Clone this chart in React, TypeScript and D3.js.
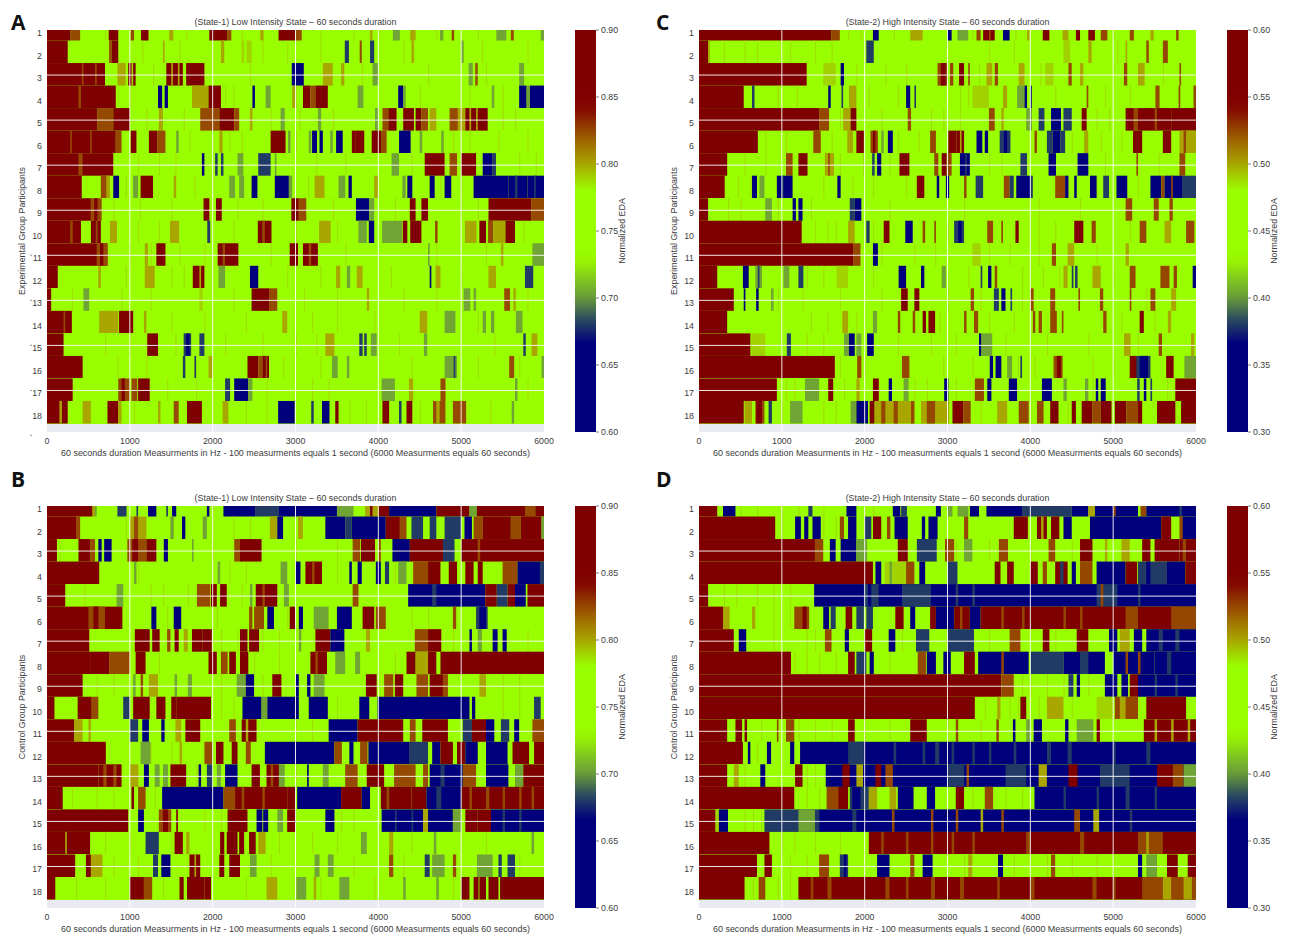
import React from "react";
import * as d3 from "d3";

// EDA level codes read from the stripes (mapped to values per scale below)
const R = "R", B = "B", O = "O", P = "P", L = "L", G = "G", T = "T", N = "N";
type Lv = string;

const participants = d3.range(1, 19);
const xTicks = [0, 1000, 2000, 3000, 4000, 5000, 6000];
const barTicksLow = [0.6, 0.65, 0.7, 0.75, 0.8, 0.85, 0.9];
const barTicksHigh = [0.3, 0.35, 0.4, 0.45, 0.5, 0.55, 0.6];
const levelsLow: Record<string, number> = { R: 0.88, B: 0.825, O: 0.8, P: 0.79, L: 0.75, G: 0.703, T: 0.68, N: 0.62 };
const levelsHigh: Record<string, number> = { R: 0.58, B: 0.525, O: 0.5, P: 0.49, L: 0.45, G: 0.403, T: 0.38, N: 0.32 };

const panelA: (number | Lv)[][] = [
  [0,285,R,285,400,B,745,860,R,1010,1050,B,1135,1225,R,1475,1525,O,1960,2175,R,2175,2225,B,2575,2615,O,2795,2995,R,2995,3075,B,3900,3930,O,4175,4260,G,4385,4450,O,4745,4785,G,4885,4915,B,5425,5545,G,5600,5635,B,5960,6000,G],
  [0,250,R,750,780,B,780,860,R,1400,1420,O,2100,2140,O,2350,2380,P,2410,2470,P,3595,3645,T,3775,3800,B,3900,3950,T,4400,4430,O,5000,5030,G],
  [0,700,R,420,440,B,580,600,B,850,950,O,980,1070,R,1020,1040,P,1440,1640,R,1500,1520,O,1580,1600,O,1680,1900,R,2955,3100,N,3330,3450,O,3550,3590,O,3930,4000,G,5090,5140,G,5170,5200,B,5700,5760,G],
  [0,830,R,380,410,B,1340,1390,N,1420,1460,N,1750,1950,O,1950,2100,R,2480,2510,N,2640,2700,G,2960,3010,O,3090,3180,R,3180,3240,B,3240,3390,R,3750,3820,G,4240,4300,N,4300,4330,G,5370,5400,G,5700,5790,N,5790,5830,G,5830,6000,N],
  [0,610,R,610,800,B,800,1000,R,1350,1400,O,1850,1980,B,1980,2080,B,2080,2260,R,2260,2320,B,2450,2480,O,2820,2870,G,3270,3310,G,3960,4000,G,4050,4120,B,4120,4220,R,4300,4430,R,4450,4520,R,4520,4600,B,4620,4700,O,4860,4960,B,4960,5050,O,5050,5320,R,5100,5120,O,5180,5200,O],
  [0,830,R,280,300,B,520,540,B,830,900,B,1010,1080,R,1230,1330,R,1330,1430,B,1560,1590,G,2080,2120,O,2700,2880,R,2910,2940,G,3160,3190,G,3200,3260,N,3290,3330,N,3420,3450,G,3490,3570,N,3680,3720,R,3720,3830,R,3920,4040,R,4040,4100,B,4250,4390,N,4500,4530,G,4760,4790,G],
  [0,800,R,380,430,B,1870,1900,N,2030,2060,T,2100,2130,T,2300,2370,G,2550,2700,T,2750,2770,G,4160,4250,G,4560,4800,R,4860,4950,B,5000,5180,R,5260,5380,N,5380,5420,T],
  [0,420,R,650,720,B,720,760,O,800,870,N,1040,1100,G,1130,1280,R,1530,1560,O,2200,2270,G,2320,2380,G,2470,2540,N,2750,2920,N,2920,2960,G,3230,3350,O,3520,3600,G,3640,3680,N,3950,4000,O,4290,4330,G,4350,4410,N,4620,4680,N,4800,4880,N,5150,5570,N,5570,5800,N,5650,5680,T,5800,6000,N,5880,5900,T],
  [0,530,R,530,660,B,570,610,R,1890,1960,R,2040,2110,R,2950,3040,R,3040,3130,B,3730,3890,N,3890,3950,G,4380,4450,R,4520,4600,R,5330,5850,R,5850,6000,B],
  [0,410,R,280,310,B,530,650,R,590,610,B,760,845,O,1485,1595,O,1935,1970,T,2545,2710,R,2600,2630,B,3285,3425,O,3760,3860,G,3885,3950,N,4045,4285,G,4295,4350,R,4385,4520,R,4685,4715,B,5045,5185,O,5220,5300,R,5325,5385,B,5385,5535,O,5535,5650,R],
  [0,730,R,600,730,B,640,680,R,1180,1220,O,1320,1430,R,2060,2310,R,2120,2150,B,2930,3030,R,3090,3270,R,3160,3190,B,4600,4620,G,5480,5510,O,5860,6000,G],
  [0,130,R,620,650,O,1180,1300,O,1760,1900,R,1840,1860,O,2070,2150,G,2450,2550,N,3490,3540,O,3620,3660,G,3740,3810,O,4620,4640,N,4690,4750,O,5330,5420,O,5770,5870,T],
  [0,50,R,440,510,G,1840,1880,P,2470,2680,R,2680,2780,B,3860,3890,O,5030,5110,G,5150,5180,G,5520,5590,B,5630,5660,O],
  [0,300,R,200,220,B,630,860,O,870,1040,R,1170,1200,O,2840,2900,O,4500,4590,O,4800,4930,G,5260,5300,G,5360,5400,G,5660,5740,G],
  [0,200,R,1210,1340,R,1650,1740,T,1680,1720,N,1840,1900,T,3360,3470,O,3770,3810,T,3830,3860,T,3910,3980,G,4550,4590,G,5750,5780,T,5850,5920,O],
  [0,430,R,1640,1670,T,1780,1800,T,1950,2000,O,2420,2550,R,2550,2600,B,2600,2680,R,2640,2660,B,3440,3510,G,3620,3650,G,4800,4950,G,4910,4930,T,5580,5640,B,5970,6000,G],
  [0,310,R,860,1000,B,900,940,R,1020,1090,B,1100,1240,R,2150,2210,T,2260,2430,N,2430,2480,G,4040,4200,G,4370,4420,O,4750,4810,B,5650,5680,G],
  [0,250,R,150,180,O,430,530,O,730,860,R,860,900,O,1340,1370,O,1530,1590,B,1690,1870,R,2120,2190,O,2790,2990,N,3190,3220,T,3320,3410,N,3480,3520,R,4050,4130,R,4250,4280,T,4340,4410,R,4660,4810,B,4700,4740,O,4900,5060,B,5610,5640,G],
];

const panelC: (number | Lv)[][] = [
  [0,1600,R,1600,1700,B,2100,2170,N,2550,2700,O,3000,3050,N,3120,3250,G,3350,3400,B,3430,3570,R,3500,3520,B,3670,3750,N,3960,3990,O,4150,4230,R,4390,4460,O,4550,4600,R,4700,4780,R,4850,4930,B,5200,5250,B,5450,5490,O,5760,5790,B],
  [0,110,R,110,130,O,2020,2110,T,4400,4480,P,4700,4740,O,5150,5170,O,5400,5430,B,5600,5660,B],
  [0,1300,R,1500,1650,P,1710,1750,N,2880,3000,B,2920,2980,R,3030,3070,B,3140,3200,R,3250,3270,B,3470,3540,O,3570,3610,B,3860,3930,O,4180,4280,P,4460,4500,B,4600,4640,O,5130,5170,B,5300,5380,O,5800,5820,B],
  [0,540,R,640,670,T,1560,1590,N,1720,1740,T,1810,1900,O,2500,2550,N,2600,2620,T,3300,3500,P,3670,3720,O,3840,3930,G,3930,3960,N,4000,4020,T,4680,4700,B,5510,5560,B,5790,5810,B,5970,6000,B],
  [0,1450,R,1450,1570,B,1740,1830,O,1830,1900,R,2520,2560,B,3500,3570,B,3650,3680,O,3950,4020,G,4100,4170,T,4250,4370,N,4400,4500,T,4620,4680,R,5150,5250,R,5250,5300,B,5300,5700,R,5500,5530,B,5700,6000,R],
  [0,710,R,1380,1470,B,1790,1860,O,1900,1990,R,2070,2160,B,2100,2130,R,2200,2230,G,2280,2340,N,2790,2860,B,3010,3110,R,3110,3200,R,3150,3170,O,3350,3420,N,3450,3490,N,3630,3760,T,3680,3720,N,4050,4080,B,4200,4270,T,4270,4360,N,4360,4420,T,4650,4700,O,5240,5350,R,5600,5700,R,5800,6000,O,5850,5880,B],
  [0,340,R,1050,1130,B,1200,1310,R,1520,1630,O,1560,1580,B,2090,2120,T,2150,2200,N,2420,2540,R,2840,2890,B,2930,2990,R,3000,3050,B,3150,3270,N,3210,3230,T,3880,3960,T,4220,4310,N,4570,4700,N,5280,5300,B,5800,5870,B],
  [0,310,R,640,700,N,730,790,G,940,1130,N,1000,1020,T,1670,1710,N,2630,2720,R,2870,2900,N,2980,3020,N,3200,3230,B,3340,3430,T,3680,3750,B,3750,3800,T,3830,4000,N,4000,4030,T,4300,4420,B,4420,4460,N,4530,4560,N,4720,4800,N,4880,4950,T,5040,5170,N,5450,5580,N,5580,5620,B,5620,5840,N,5700,5720,B,5840,6000,T],
  [0,110,R,800,880,G,1130,1170,N,1200,1250,N,1820,1880,T,1880,1960,N,5150,5230,B,5490,5550,B,5680,5720,B],
  [0,1240,R,1800,1880,O,2020,2060,T,2230,2300,R,2490,2580,N,2700,2730,B,2840,2860,B,3080,3200,T,3130,3170,N,3480,3550,B,3650,3670,B,3820,3860,R,4530,4640,R,4740,4790,B,5320,5400,B,5620,5700,O,5880,5980,B],
  [0,1860,R,1860,1950,B,2100,2160,N,3300,3400,P,4260,4310,B,4450,4530,O,5150,5190,O],
  [0,220,R,530,600,N,680,760,G,710,730,T,1020,1090,G,1200,1260,T,1660,1800,P,2410,2500,N,2680,2720,N,2930,2980,G,3400,3420,T,3490,3530,N,3570,3600,B,4400,4450,O,4500,4520,T,4540,4570,T,4750,4850,O,5200,5270,B,5570,5680,B,5730,5770,B,5960,6000,N],
  [0,420,R,540,560,N,690,720,N,870,900,G,2440,2520,R,2600,2660,R,3280,3320,B,3560,3620,T,3650,3700,N,3760,3780,T,4000,4040,B,4240,4300,B,4580,4600,B,4840,4880,B,5200,5220,B,5450,5510,B,5700,5760,O],
  [0,340,R,1730,1800,O,2100,2150,G,2400,2430,B,2580,2610,B,2700,2740,R,2770,2850,R,3200,3230,B,3320,3370,B,4030,4060,B,4100,4140,B,4240,4320,B,4380,4400,B,4880,4920,B,5320,5370,R,5660,5700,O],
  [0,620,R,630,800,P,1060,1110,T,1750,1810,G,1810,1880,N,1900,1960,G,2030,2110,N,3380,3410,N,3410,3540,G,5130,5210,O,5550,5590,B,5940,5980,O],
  [0,1640,R,1910,1960,B,2450,2540,B,3510,3550,N,3580,3650,N,3720,3780,G,3880,3900,T,4280,4390,B,4320,4370,R,5200,5290,R,5280,5450,T,5320,5420,N,5640,5730,R,5860,6000,G],
  [0,940,R,1280,1450,G,1560,1620,R,1900,1940,O,2100,2170,R,2290,2330,N,2470,2530,G,2960,3010,N,3330,3440,B,3480,3530,N,3740,3840,N,4140,4260,N,4400,4440,G,4660,4700,G,4790,4820,N,4850,4910,N,5290,5320,T,5370,5400,N,5450,5470,T,5750,6000,R],
  [0,540,R,550,640,O,680,790,B,690,760,R,840,880,T,1100,1250,G,1830,1900,G,1900,2040,N,2060,2120,R,2120,2600,O,2200,2250,B,2350,2400,B,2560,2600,B,2680,3020,O,2750,2850,B,3060,3190,R,3190,3280,B,3600,3720,O,3860,3980,B,4080,4160,B,4240,4340,R,4500,4550,R,4620,4750,R,4750,4850,B,4850,4980,R,5020,5160,R,5160,5300,B,5300,5350,R,5530,5750,R,5820,6000,R],
];

const panelB: (number | Lv)[][] = [
  [0,550,R,550,580,O,580,600,G,850,960,T,1080,1100,T,1220,1320,N,1440,1460,T,1510,1560,N,1930,1960,N,2130,2520,N,2520,2800,T,2800,3510,N,3500,3700,G,3840,4000,O,3900,3930,R,4000,4130,R,4130,4700,N,4700,5100,R,5100,5190,G,5190,6000,R,5770,5900,B],
  [0,350,R,350,400,B,1000,1200,O,1050,1100,B,1490,1530,G,1630,1670,N,1880,1930,G,2690,2780,O,2780,2850,N,3030,3090,O,3360,3600,N,3600,3680,T,3680,4090,N,4090,4260,R,4260,4340,B,4400,4540,T,4620,4700,T,4800,5000,T,5040,5130,N,5150,5260,B,5260,5600,R,5600,5720,B,5720,5970,R,5970,6000,G],
  [0,120,R,380,520,R,520,580,B,620,660,N,690,780,N,970,1200,B,1030,1100,R,1200,1320,R,1410,1460,N,1750,1770,G,2260,2330,B,2330,2590,R,3690,3780,B,3790,3960,R,4000,4030,B,4170,4380,N,4380,4780,R,4780,4920,T,5000,6000,R,5200,5230,B],
  [0,630,R,1050,1080,G,2060,2090,G,2820,2900,G,3000,3060,N,3120,3320,R,3200,3230,B,3650,3680,N,3750,3800,N,3970,4030,N,4080,4130,T,4240,4340,G,4420,4600,B,4600,4750,R,4850,4950,R,5050,5150,R,5200,5260,R,5500,5680,B,5680,5960,N,5950,6000,T],
  [0,220,R,840,920,G,1810,1970,B,1980,2050,R,2090,2170,R,2450,2480,G,2520,2780,R,2600,2630,B,2860,2920,G,3690,3760,B,4360,5290,N,4650,4700,T,5290,5430,R,5430,5560,T,5560,5650,R,5650,5780,N,5800,6000,R],
  [0,910,R,500,700,B,560,620,R,1260,1320,N,1530,1620,N,2440,2480,B,2500,2620,B,2660,2740,N,2930,3000,R,3040,3090,N,3220,3400,G,3500,3680,N,3810,3950,R,3970,4090,B,4900,4940,B,5180,5320,T,5220,5300,N],
  [0,510,R,1060,1240,R,1270,1360,R,1450,1490,B,1540,1590,R,1650,1700,O,1750,1880,R,1880,1990,R,2330,2420,R,2440,2560,R,3040,3070,G,3240,3420,R,3420,3590,N,3850,3900,O,4440,4600,B,4600,4760,R,5100,5130,N,5200,5250,G,5380,5440,N,5500,5550,N],
  [0,530,R,530,750,R,750,1000,B,1070,1190,R,1950,2050,R,2100,2180,B,2200,2280,R,2330,2430,R,3180,3380,R,3240,3270,B,3480,3600,G,3720,3780,G,4340,4450,R,4450,4600,O,4600,4700,R,4750,6000,R],
  [0,430,R,1040,1070,G,1130,1160,B,1230,1340,O,1540,1570,G,1700,1750,G,2290,2400,G,2400,2500,N,2720,2830,R,3000,3040,N,3140,3180,N,3220,3350,G,3850,3980,R,4070,4180,B,4200,4300,R,4460,4600,B,4620,4780,R,4780,4840,B,5220,5300,O],
  [0,90,R,370,540,R,540,620,B,920,1000,T,1040,1240,R,1320,1430,R,1500,1560,R,1560,1980,R,2360,2590,N,2590,2660,G,2660,3040,N,3160,3390,N,3770,3890,N,3990,5100,N,5130,5170,N,5880,5960,T],
  [0,330,R,330,430,O,500,530,O,1000,1100,T,1150,1230,N,1380,1420,N,1550,1620,O,1670,1850,R,2200,2280,B,2350,2530,R,2400,2430,O,3400,3750,N,3750,4300,R,4380,4450,B,4530,4840,R,5020,5130,T,5130,5300,R,5300,5400,N,5480,5580,T,5640,5700,N,5860,6000,B],
  [0,710,R,1130,1250,G,1600,1630,O,1900,2000,B,2040,2130,R,2230,2300,R,2400,2460,B,2630,3470,N,3470,3560,B,3650,3700,N,3780,3870,B,3880,4370,N,4370,4600,T,4650,4750,N,4750,4900,R,4950,5050,R,5050,5200,N,5300,5560,N,5620,5820,R,5880,6000,R],
  [0,620,R,620,900,R,680,720,B,800,840,B,1000,1100,O,1170,1230,N,1300,1360,G,1400,1460,G,1490,1680,R,1830,1860,N,1930,2000,T,2050,2100,G,2150,2300,N,2470,2570,R,2650,2800,R,2700,2730,B,2800,2870,G,3140,3160,N,3330,3400,G,3600,3750,B,3860,4070,R,4190,4450,B,4540,4600,B,4620,5020,N,4750,4800,T,5020,5180,B,5300,5570,N,5650,5750,G,5750,6000,R],
  [0,190,R,1020,1050,R,1100,1190,B,1390,2130,N,2130,2270,B,2270,2900,R,2350,2380,B,2600,2630,B,2900,3000,R,3020,3550,N,3550,3800,R,3800,3900,N,4030,4400,R,4100,4130,B,4400,4580,R,4580,5000,N,4700,4760,T,5000,6000,R,5100,5130,B,5300,5340,B,5500,5530,B,5700,5730,B,5850,5880,B],
  [0,980,R,1100,1170,N,1350,1500,B,1400,1460,R,1560,1580,R,2180,2420,R,2530,2600,N,2610,2670,N,2780,2850,G,2900,3000,R,3360,3470,N,4040,4540,N,4200,4220,T,4400,4420,T,4540,4600,O,4600,4900,N,4900,5000,G,5050,5200,R,5200,5360,R,5360,6000,N,5500,5530,T,5700,5730,T],
  [0,520,R,220,240,O,1190,1350,T,1540,1640,R,1680,1720,O,2090,2140,R,2170,2300,R,2320,2380,R,2440,2520,R,2550,2640,O,3790,3860,G,4130,4180,O,4670,4700,G,5850,5880,G],
  [0,340,R,470,530,R,530,670,O,1280,1340,T,1380,1490,N,1720,1850,R,1780,1800,O,2080,2140,R,2200,2330,R,2450,2530,G,3230,3290,G,3390,3460,G,4130,4180,B,4560,4620,T,4650,4800,G,4900,4940,B,5190,5380,G,5450,5490,T,5560,5650,T],
  [0,100,R,1000,1170,R,1170,1270,B,1600,1650,R,1690,1900,R,1900,1980,R,2650,2780,O,3010,3130,G,3220,3250,O,3530,3650,G,4300,4330,G,4700,4730,G,5000,5100,R,5150,5210,R,5220,5300,R,5330,5450,R,5470,6000,R],
];

const panelD: (number | Lv)[][] = [
  [0,220,R,290,440,N,1320,1370,T,1780,1900,N,2340,2430,N,2440,2510,T,2860,2920,N,3000,3060,G,3120,3250,G,3270,3380,N,3470,3900,N,3900,4500,T,4500,4700,N,4700,4780,O,4780,5300,N,5000,5030,B,5330,5400,B,5400,6000,N,5800,5830,T],
  [0,920,R,1160,1230,N,1270,1320,N,1370,1470,N,1700,1750,B,1800,1900,N,2000,2080,T,2100,2200,R,2270,2310,B,2360,2520,N,2690,2730,N,2770,2880,N,3200,3250,B,3800,3970,R,4080,4200,R,4130,4160,O,4250,4350,R,4400,4500,N,4720,5580,N,5580,5700,R,5800,5860,B,5840,6000,N],
  [0,1400,R,1400,1500,B,1580,1650,N,1710,1900,N,1900,2030,G,2400,2520,R,2630,2870,T,2970,3080,B,3200,3300,G,3620,3730,B,4220,4300,B,4600,4750,R,4900,4930,O,5100,5200,O,5350,5450,R,5500,5800,R,5800,6000,R,5840,5880,B],
  [0,2100,R,2130,2200,N,2240,2500,P,2300,2330,G,2500,2600,B,2660,2730,N,3000,3120,T,3570,3640,R,3720,3800,R,4000,4090,R,4150,4200,B,4300,4450,R,4360,4400,T,4500,4550,N,4600,4750,B,4800,5150,N,5150,5290,R,5300,5650,T,5400,5450,N,5650,5870,N,5870,6000,R],
  [0,110,R,1390,6000,N,1990,2170,T,2040,2080,N,2450,2800,T,3100,3130,T,3300,3330,T,4800,5050,T,4850,4880,B,5300,5330,T],
  [0,290,R,290,370,O,640,680,O,1150,1330,B,1250,1300,R,1500,1570,N,1590,1650,T,1770,1850,R,1900,1990,T,2020,2100,T,2370,2470,R,2550,2610,N,2790,2860,R,2860,3080,N,3080,3270,R,3150,3180,B,3270,3400,N,3400,6000,R,3650,3680,B,3900,3930,B,4400,4430,B,4600,4630,B,5150,5300,B,5700,6000,B],
  [0,420,R,480,570,N,1520,1600,B,1760,1810,N,2000,2090,R,2290,2370,N,2620,2780,T,3000,3320,T,3750,3880,B,4150,4230,R,4560,4700,R,4950,5050,N,5080,5200,O,5250,5350,N,5400,6000,N,5550,5600,T,5750,5800,T],
  [0,1110,R,1800,1880,R,1900,2020,T,2060,2110,N,2640,2740,B,2750,2860,N,2950,3040,N,3200,3330,R,3370,3980,N,3650,3680,B,4000,4400,T,4400,4900,N,4600,4700,T,5000,5500,N,5150,5180,B,5300,5330,B,5500,6000,N,5650,5700,T],
  [0,3650,R,3650,3800,B,4460,4520,T,4560,4600,N,4900,5050,N,5100,5180,N,5200,5300,R,5300,6000,N,5500,5530,T,5750,5780,T],
  [0,3330,R,3600,3640,O,3880,3950,R,4200,4400,O,4800,5000,P,5020,5300,B,5080,5150,O,5400,5880,R],
  [0,340,R,440,520,R,550,580,R,940,960,B,1050,1150,B,1800,1880,R,2550,2750,R,3100,3130,B,3590,3620,B,3790,3820,N,3950,4000,G,4040,4140,N,4420,4460,N,4560,4760,G,4800,4840,R,5370,6000,R,5500,5530,O,5700,5730,O,5900,5930,O],
  [0,530,R,590,620,N,820,870,N,1100,1150,N,1220,6000,N,1800,1990,T,2350,2380,T,2700,2730,T,2850,2900,T,3050,3080,T,3300,3330,T,3500,3530,T,3800,3830,T,4200,4250,T,4450,4500,T,5000,5030,T,5400,5450,T],
  [0,340,R,420,480,O,740,800,N,1160,1250,R,1530,6000,N,1730,1820,R,1900,1980,O,2130,2200,R,2250,2340,B,3000,3200,T,3230,3260,B,3700,3950,T,4100,4200,O,4460,4570,R,4840,5200,T,5530,5720,R,5720,5850,B,5850,6000,G],
  [0,1150,R,1540,1680,B,1680,1800,R,1820,2050,T,1850,1950,N,2050,2150,O,2300,2380,O,2400,2590,N,2750,2850,N,3100,3200,R,3450,3550,B,4050,6000,N,4400,4430,T,4800,4830,T,5150,5200,T,5500,5530,T],
  [0,200,R,200,240,P,240,350,N,790,1450,T,1200,1400,G,1450,6000,N,1850,1900,T,2330,2360,B,2800,2830,B,3100,3130,B,3400,3430,O,3650,3680,B,4530,4600,B,4760,4830,O,5200,5230,T],
  [0,850,R,2050,6000,R,2200,2230,B,2500,2530,B,2800,2830,B,3050,3080,B,3300,3330,B,3950,4000,B,4600,4650,B,5300,5600,B,5400,5430,O],
  [0,700,R,790,880,R,1450,1570,B,1700,1800,T,1750,1780,N,2150,2300,N,2550,2600,B,2700,2820,N,3250,3300,O,3610,3670,N,4250,4300,B,5300,5350,N,5400,5530,G,5650,5780,R,5900,6000,R],
  [0,550,R,720,800,B,1200,6000,R,1350,1380,B,1550,1600,B,2250,2300,B,2500,2530,B,2800,2850,B,3150,3200,B,3600,3630,B,4000,4050,B,4750,4800,B,5000,5030,B,5350,6000,B,5600,5700,O,5850,5950,O],
];

// thin pale stripes on the lime background
const hairA = [[700,1180,1680,2350,3300,3700,4000,4700,5200],[1150,1600,2600,2900,3300,4300,5250,5800],[1280,1550,2450,3800,4600,5300],[1000,2150,2250,3350,4500,5100,5500],[1200,1650,2700,3050,3450,5500,5650],[1720,2200,2350,3000,4900,5100,5450,5800],[1100,1350,1550,3250,3600,4400,5700,5900],[950,1180,1780,3150,4750,5000],[800,1120,1500,2300,2600,3450,4200,5000,5200],[1100,1350,2250,3000,3500,4700,5750],[1000,1250,1600,1900,2700,3600,4700,5300],[620,950,1500,1650,2500,2900,3300,4150,5000],[300,900,1250,2250,3100,3500,4300,4700,5800],[700,1500,1900,2400,3200,3500,3950,5200],[700,1000,1550,2150,2600,3000,3250,4250,5400],[850,1200,2850,3300,4400,5200,5700],[1450,1800,2650,3200,3400,4800,5800],[1050,2400,2650,3650,3850,4500,5350]];
const hairC = [[1800,1950,2350,2600,3300,3820,4200,5000],[300,550,700,1100,1400,1600,3500,3800,5050],[1900,2250,2500,3380,4120,5000,5600],[950,1180,2050,2400,3150,3250,4300,4900,5200],[1700,2200,2800,2950,3150,4800,4950],[800,1050,1600,2400,2650,4500,4850,5000,5100],[550,800,1700,1980,2300,3500,3650,4900,5550],[470,620,1500,1850,2100,2500,4800,5300],[350,500,950,1350,2300,3200,4100,4600],[1400,1550,1650,2100,3000,4100,4300,5200],[2200,2600,2850,3500,3750,4100,4800],[1300,1500,2100,3250,3900,4150,4350,5000],[950,1250,1700,2200,3000,3400,3900,5400],[1350,1550,1900,2900,3500,3800,5100,5500],[1300,1500,2400,2800,3100,3700,4200,4700,5300],[1700,2000,2950,3300,3850,4050,4750,5000],[1050,1150,1750,2600,2750,3100,4750,5650],[1000,1500,1650,3400,4000,4450,5750]];
const hairB = [[260,2000],[950,1500,2250,2450],[150,1000,2000,3000,3500],[1100,2200,2400,3500,4200],[450,1250,1400,1700,2350],[1450,2050,2900,4400,4600],[2100,2300,2600,2800,4900,5800],[1350,2500,2800,4200],[600,800,2100,2600,5500,5700],[2100,2250,3500,5500,5700],[3000,3200],[1250,1500],[1100,1800,3000],[300,600,800,1300],[1900,2100,3550,3700],[700,1000,1500,2800,3200,3500,4400,5300],[800,1100,2700,3700,4300,5700],[350,700,1400,2400,3300,3950,4700,4900]];
const hairD = [[500,700,1000,1200,1500,2000,2100],[1000,1500,1650],[1600,3100,3500,4000,4500],[],[300,450,700,900,1100],[900,1100,1800],[900,1300,1400,2450,3500,3800,4300],[1150,1300,1450,1650,2300],[3900,4000,4200,4400,4700],[3450,3750,3850,4100,4500],[750,1200,1400,1600,2000,2300,3000,3400],[700,850],[550,1300,1400],[1300,1450,3300,3700,3900],[550,650,750],[1000,1150,1400,1700],[1100,1300,3200,3800,4200,4500,4800,5000],[650,950,1100]];

const colorStops: [number, string][] = [
  [0, "#00007d"], [0.22, "#00007d"], [0.28, "#2a4a60"], [0.333, "#6a9a3a"], [0.38, "#80c820"],
  [0.42, "#96f004"], [0.45, "#99ff00"], [0.6, "#99ff00"], [0.667, "#a9a600"], [0.72, "#a06a00"], [0.76, "#923c00"], [0.8, "#840c00"], [0.83, "#7f0000"], [1, "#7f0000"],
];
const tColor = d3.scaleLinear<string>().domain(colorStops.map((d) => d[0])).range(colorStops.map((d) => d[1])).clamp(true);

const FONT = "'Liberation Sans', Arial, sans-serif";
const TXT = "#3c3c3c";

interface PanelProps {
  letter: string; dx: number; dy: number; letterX: number; letterY: number; x0: number; x1: number; title: string; yLabel: string;
  rows: (number | Lv)[][]; hair: number[][]; levels: Record<string, number>; barTicks: number[]; showDots?: boolean;
}

function Panel({ letter, dx, dy, letterX, letterY, x0, x1, title, yLabel, rows, hair, levels, barTicks, showDots }: PanelProps) {
  const top = 30, bottom = 432;
  const x = d3.scaleLinear().domain([0, 6000]).range([x0, x1]);
  const y = d3.scaleLinear().domain([1, 18]).range([33, 416]);
  const dom: [number, number] = [barTicks[0], barTicks[barTicks.length - 1]];
  const norm = d3.scaleLinear().domain(dom).range([0, 1]);
  const color = (v: number) => tColor(norm(v));
  const barY = d3.scaleLinear().domain(dom).range([bottom, top]);
  const barX = x1 + 31;
  const barW = 21;
  const gid = `grad-${letter}`;
  const rowTop = (k: number) => Math.max(top, y(k - 0.667));
  const rowBot = (k: number) => y(k + 0.333);
  const midY = (top + bottom) / 2;
  return (
    <g transform={`translate(${dx},${dy})`} fontFamily={FONT} fill={TXT}>
      <defs>
        <linearGradient id={gid} x1="0" x2="0" y1="1" y2="0">
          {d3.range(0, 1.001, 0.02).map((t) => <stop key={t} offset={t} stopColor={tColor(t)} />)}
        </linearGradient>
        <filter id={`soft-${letter}`} x="0" y="0" width="1" height="1"><feGaussianBlur stdDeviation="0.45 0.2" /></filter>
      </defs>
      <text x={letterX} y={letterY} fontFamily="'Open Sans', sans-serif" fontWeight={700} fontSize={21} fill="#111">{letter}</text>
      <text x={(x0 + x1) / 2} y={25} textAnchor="middle" fontSize={8.9}>{title}</text>
      <rect x={x0} y={top} width={x1 - x0} height={bottom - top} fill="#eaeaf2" />
      <g filter={`url(#soft-${letter})`}>
        <rect x={x0} y={top} width={x1 - x0} height={bottom - top} fill="#eaeaf2" />
        {participants.map((p, i) => {
          const run = rows[i];
          const yT = rowTop(p), h = rowBot(p) - yT;
          return (
            <g key={p}>
              <rect x={x0} y={yT} width={x1 - x0} height={h} fill={color(levels.L)} shapeRendering="crispEdges" />
              {hair[i].map((s) => <rect key={s} x={x(s)} y={yT} width={x(s + 14) - x(s)} height={h} fill={color(levels.P)} opacity={0.75} />)}
              {d3.range(0, run.length, 3).map((j) => (
                <rect key={j} x={x(run[j] as number)} y={yT} width={x(run[j + 1] as number) - x(run[j] as number)} height={h} fill={color(levels[run[j + 2] as string])} />
              ))}
            </g>
          );
        })}
      </g>
      {xTicks.slice(1, -1).map((t) => <line key={t} x1={x(t)} x2={x(t)} y1={top} y2={bottom} stroke="#fff" strokeWidth={1} opacity={0.9} />)}
      {participants.filter((p) => p % 2 === 1 && p > 1).map((p) => <line key={p} x1={x0} x2={x1} y1={y(p) - 3} y2={y(p) - 3} stroke="#fff" strokeWidth={1} opacity={0.9} />)}
      {participants.map((p) => <text key={p} x={x0 - 5} y={y(p) + 3} textAnchor="end" fontSize={8.8}>{p}</text>)}
      {showDots && [11, 13, 15, 17, 19].map((p) => <circle key={p} cx={31} cy={y(p) - 3} r={0.8} fill="#888" />)}
      {xTicks.map((t) => <text key={t} x={x(t)} y={444} textAnchor="middle" fontSize={8.8}>{t}</text>)}
      <text x={(x0 + x1) / 2} y={456} textAnchor="middle" fontSize={8.95}>60 seconds duration Measurments in Hz - 100 measurments equals 1 second (6000 Measurments equals 60 seconds)</text>
      <text transform={`translate(${x0 - 22},${midY}) rotate(-90)`} textAnchor="middle" fontSize={8.9}>{yLabel}</text>
      <rect x={barX} y={top} width={barW} height={bottom - top} fill={`url(#${gid})`} />
      {barTicks.map((t) => (
        <g key={t}>
          <line x1={barX + barW} x2={barX + barW + 3} y1={barY(t)} y2={barY(t)} stroke="#444" strokeWidth={0.7} />
          <text x={barX + barW + 5} y={barY(t) + 3} fontSize={8.8}>{t.toFixed(2)}</text>
        </g>
      ))}
      <text transform={`translate(${barX + barW + 29},${midY}) rotate(-90)`} textAnchor="middle" fontSize={8.9}>Normalized EDA</text>
    </g>
  );
}

export default function App() {
  const titleLow = "(State-1) Low Intensity State \u2013 60 seconds duration";
  const titleHigh = "(State-2) High Intensity State \u2013 60 seconds duration";
  const exp = "Experimental Group Participants";
  const ctl = "Control Group Participants";
  return (
    <svg width={1300} height={934} viewBox="0 0 1300 934" style={{ position: "absolute", left: 0, top: 0, background: "#fff" }}>
      <Panel letter="A" dx={0} dy={0} letterX={11} letterY={30} x0={47} x1={544} title={titleLow} yLabel={exp} rows={panelA} hair={hairA} levels={levelsLow} barTicks={barTicksLow} showDots />
      <Panel letter="C" dx={652} dy={0} letterX={4} letterY={30} x0={47} x1={544} title={titleHigh} yLabel={exp} rows={panelC} hair={hairC} levels={levelsHigh} barTicks={barTicksHigh} />
      <Panel letter="B" dx={0} dy={476} letterX={11} letterY={11} x0={47} x1={544} title={titleLow} yLabel={ctl} rows={panelB} hair={hairB} levels={levelsLow} barTicks={barTicksLow} />
      <Panel letter="D" dx={652} dy={476} letterX={4} letterY={11} x0={47} x1={544} title={titleHigh} yLabel={ctl} rows={panelD} hair={hairD} levels={levelsHigh} barTicks={barTicksHigh} />
    </svg>
  );
}
